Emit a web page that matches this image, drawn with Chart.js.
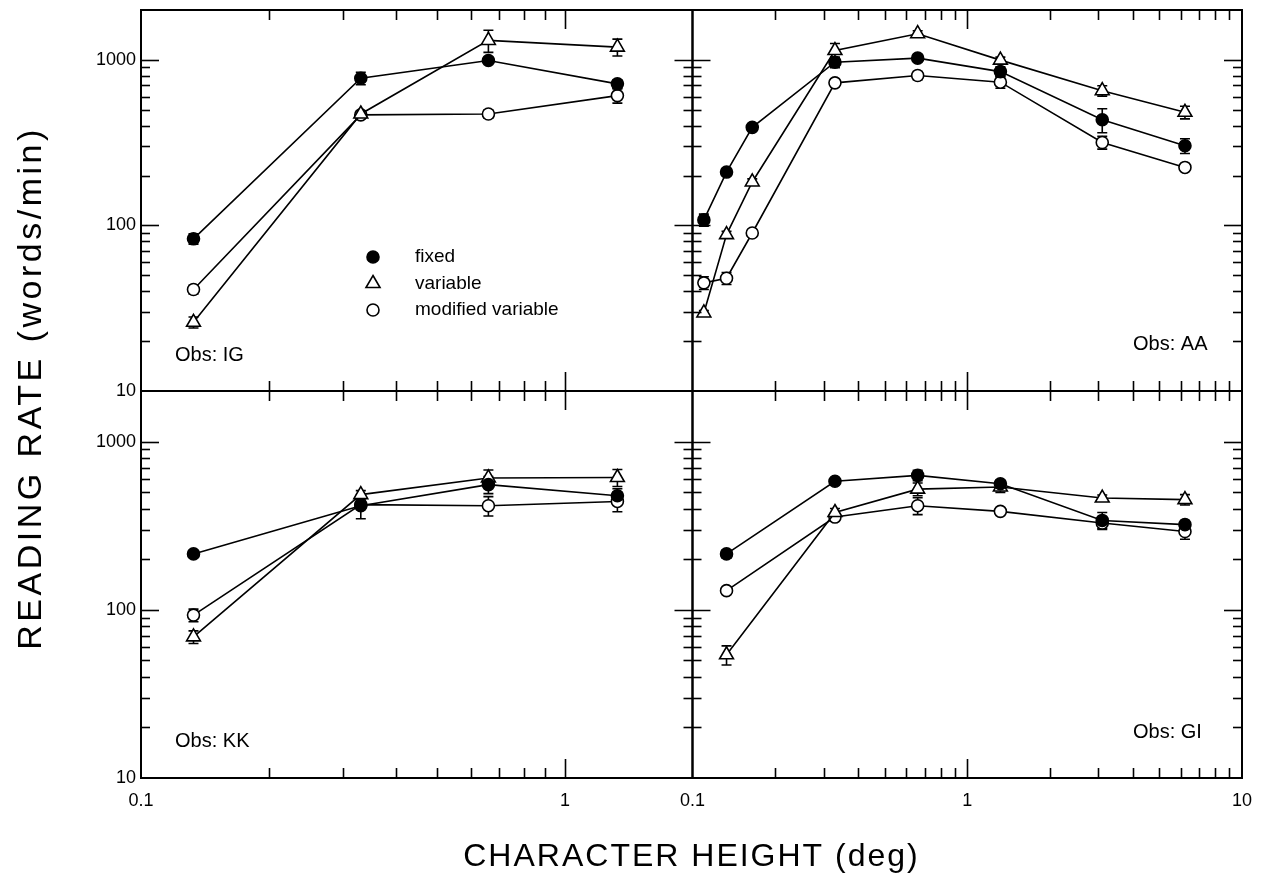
<!DOCTYPE html>
<html>
<head>
<meta charset="utf-8">
<script src="https://cdn.jsdelivr.net/npm/chart.js@4.4.1/dist/chart.umd.min.js"></script>
<style>
  html, body { margin: 0; padding: 0; background: #fff; }
  #contenedor { position: relative; width: 1265px; height: 890px; }
</style>
</head>
<body>
<div id="contenedor"><canvas id="grafica" width="1265" height="890"></canvas></div>
<script>
// altura de caracter (deg) para cada panel
const alturasIzq = [0.133, 0.33, 0.66, 1.33];
const alturasAA = [0.11, 0.133, 0.165, 0.33, 0.66, 1.32, 3.1, 6.2];
const alturasGI = [0.133, 0.33, 0.66, 1.32, 3.1, 6.2];

// Obs: IG
const igFijo = [83, 774, 990, 716];
const igFijoErr = [6, 67, 30, 40];
const igVariable = [26, 471, 1310, 1194];
const igVariableErr = [2, 20, 200, 140];
const igModificado = [41, 465, 471, 608];
const igModificadoErr = [2.5, 0, 27, 60];

// Obs: AA
const aaFijo = [108, 210, 391, 968, 1024, 849, 435, 303];
const aaFijoErr = [9, 9, 17, 70, 43, 60, 72, 31];
const aaVariable = [29.6, 88, 183, 1138, 1438, 996, 651, 482];
const aaVariableErr = [1, 4, 8, 117, 60, 42, 47, 42];
const aaModificado = [45, 48, 90, 726, 804, 733, 317, 224];
const aaModificadoErr = [4, 4, 4, 31, 46, 60, 28, 10];

// Obs: KK
const kkFijo = [215, 416, 555, 477];
const kkFijoErr = [9, 68, 64, 48];
const kkVariable = [69, 484, 608, 612];
const kkVariableErr = [6, 27, 70, 71];
const kkModificado = [93, 422, 416, 441];
const kkModificadoErr = [8, 24, 55, 58];

// Obs: GI
const giFijo = [215, 581, 630, 562, 340, 321];
const giFijoErr = [12, 25, 45, 24, 39, 18];
const giVariable = [54, 379, 522, 537, 462, 452];
const giVariableErr = [7, 21, 45, 38, 20, 32];
const giModificado = [130, 356, 416, 385, 328, 292];
const giModificadoErr = [5, 15, 48, 16, 23, 29];

const ticksY = [10, 100, 1000];
const ticksXIzq = [0.1, 1];
const ticksXDer = [0.1, 1, 10];
const nombresSeries = ["fixed", "variable", "modified variable"];
const observadores = ["Obs: IG", "Obs: AA", "Obs: KK", "Obs: GI"];

const fuente = "'Liberation Sans', Arial, Helvetica, sans-serif";

function puntos(xs, ys) {
  return xs.map((x, i) => ({ x: x, y: ys[i] }));
}

function serie(nombre, xs, ys, errores, ejeX, ejeY, tipo) {
  const relleno = tipo === "fijo" ? "#000" : "#fff";
  return {
    label: nombre,
    data: puntos(xs, ys),
    errores: errores,
    xAxisID: ejeX,
    yAxisID: ejeY,
    borderColor: "#000",
    borderWidth: 1.6,
    pointStyle: tipo === "variable" ? "triangle" : "circle",
    pointRadius: tipo === "variable" ? 8 : 6,
    pointBackgroundColor: relleno,
    pointBorderColor: "#000",
    pointBorderWidth: 1.6,
    tension: 0,
    fill: false,
  };
}

function panel(xs, fijo, fijoErr, variable, variableErr, modif, modifErr, ejeX, ejeY) {
  return [
    serie(nombresSeries[0], xs, fijo, fijoErr, ejeX, ejeY, "fijo"),
    serie(nombresSeries[1], xs, variable, variableErr, ejeX, ejeY, "variable"),
    serie(nombresSeries[2], xs, modif, modifErr, ejeX, ejeY, "modificado"),
  ];
}

const datasets = [
  ...panel(alturasIzq, igFijo, igFijoErr, igVariable, igVariableErr, igModificado, igModificadoErr, "xL", "yT"),
  ...panel(alturasAA, aaFijo, aaFijoErr, aaVariable, aaVariableErr, aaModificado, aaModificadoErr, "xR", "yT"),
  ...panel(alturasIzq, kkFijo, kkFijoErr, kkVariable, kkVariableErr, kkModificado, kkModificadoErr, "xL", "yB"),
  ...panel(alturasGI, giFijo, giFijoErr, giVariable, giVariableErr, giModificado, giModificadoErr, "xR", "yB"),
];

function valoresMarcas(min, max) {
  const valores = [];
  let decada = Math.pow(10, Math.floor(Math.log10(min) + 1e-9));
  while (decada < max) {
    for (let k = 1; k <= 9; k++) {
      const v = parseFloat((k * decada).toPrecision(4));
      if (v > min * 1.0001 && v < max * 0.9999) valores.push({ v: v, mayor: k === 1 });
    }
    decada *= 10;
  }
  return valores;
}

function marcasY(ctx, escala, x, modo) {
  for (const t of valoresMarcas(escala.min, escala.max)) {
    const y = Math.round(escala.getPixelForValue(t.v)) + 0.5;
    const largo = t.mayor ? 18 : 9;
    ctx.beginPath();
    if (modo === "cruz") {
      ctx.moveTo(x - largo, y);
      ctx.lineTo(x + largo, y);
    } else {
      ctx.moveTo(x, y);
      ctx.lineTo(x + modo * largo, y);
    }
    ctx.stroke();
  }
}

function marcasX(ctx, escala, y, modo) {
  for (const t of valoresMarcas(escala.min, escala.max)) {
    const x = Math.round(escala.getPixelForValue(t.v)) + 0.5;
    const largo = t.mayor ? 19 : 10;
    ctx.beginPath();
    if (modo === "cruz") {
      ctx.moveTo(x, y - largo);
      ctx.lineTo(x, y + largo);
    } else {
      ctx.moveTo(x, y);
      ctx.lineTo(x, y + modo * largo);
    }
    ctx.stroke();
  }
}

const pluginMarco = {
  id: "marco",
  beforeDatasetsDraw(chart) {
    const ctx = chart.ctx;
    ctx.save();
    ctx.strokeStyle = "#000";
    ctx.lineWidth = 1.6;
    chart.data.datasets.forEach((ds, i) => {
      const meta = chart.getDatasetMeta(i);
      const ex = meta.xScale;
      const ey = meta.yScale;
      ds.data.forEach((p, j) => {
        const e = ds.errores[j];
        if (!e) return;
        const x = ex.getPixelForValue(p.x);
        const y1 = ey.getPixelForValue(p.y - e);
        const y2 = ey.getPixelForValue(p.y + e);
        ctx.beginPath();
        ctx.moveTo(x, y1);
        ctx.lineTo(x, y2);
        ctx.moveTo(x - 5, y1);
        ctx.lineTo(x + 5, y1);
        ctx.moveTo(x - 5, y2);
        ctx.lineTo(x + 5, y2);
        ctx.stroke();
      });
    });
    ctx.restore();
  },
  afterDatasetsDraw(chart) {
    const ctx = chart.ctx;
    const s = chart.scales;
    ctx.save();
    ctx.strokeStyle = "#000";
    ctx.fillStyle = "#000";

    // marcos de los cuatro paneles
    ctx.lineWidth = 2;
    const paneles = [[s.xL, s.yT], [s.xR, s.yT], [s.xL, s.yB], [s.xR, s.yB]];
    paneles.forEach(([ex, ey]) => {
      ctx.strokeRect(ex.left, ey.top, ex.right - ex.left, ey.bottom - ey.top);
    });

    // marcas de los ejes
    ctx.lineWidth = 1.6;
    marcasY(ctx, s.yT, s.xL.left, 1);
    marcasY(ctx, s.yB, s.xL.left, 1);
    marcasY(ctx, s.yT, s.xR.left, "cruz");
    marcasY(ctx, s.yB, s.xR.left, "cruz");
    marcasY(ctx, s.yT, s.xR.right, -1);
    marcasY(ctx, s.yB, s.xR.right, -1);
    marcasX(ctx, s.xL, s.yT.top, 1);
    marcasX(ctx, s.xR, s.yT.top, 1);
    marcasX(ctx, s.xL, s.yB.top, "cruz");
    marcasX(ctx, s.xR, s.yB.top, "cruz");
    marcasX(ctx, s.xL, s.yB.bottom, -1);
    marcasX(ctx, s.xR, s.yB.bottom, -1);

    // leyenda en el primer panel
    const lx = s.xL.left + 232;
    const ly = s.yT.top + 247;
    ctx.lineWidth = 1.6;
    ctx.font = "19px " + fuente;
    ctx.textAlign = "left";
    ctx.textBaseline = "middle";
    nombresSeries.forEach((nombre, i) => {
      const y = ly + i * 26.5;
      ctx.beginPath();
      if (i === 1) {
        ctx.moveTo(lx, y - 8);
        ctx.lineTo(lx + 7, y + 4);
        ctx.lineTo(lx - 7, y + 4);
        ctx.closePath();
        ctx.stroke();
      } else {
        ctx.arc(lx, y, 6, 0, Math.PI * 2);
        if (i === 0) ctx.fill();
        ctx.stroke();
      }
      ctx.fillText(nombre, lx + 42, y);
    });

    // etiquetas de observador
    ctx.font = "20px " + fuente;
    ctx.fillText(observadores[0], s.xL.left + 34, s.yT.bottom - 36);
    ctx.fillText(observadores[1], s.xR.right - 109, s.yT.bottom - 47);
    ctx.fillText(observadores[2], s.xL.left + 34, s.yB.bottom - 37);
    ctx.fillText(observadores[3], s.xR.right - 109, s.yB.bottom - 46);

    // titulos de los ejes
    ctx.font = "32px " + fuente;
    ctx.letterSpacing = "2px";
    ctx.textAlign = "center";
    ctx.fillText("CHARACTER HEIGHT (deg)", (s.xL.left + s.xR.right) / 2, 857);
    ctx.font = "34px " + fuente;
    ctx.letterSpacing = "3.5px";
    ctx.translate(32, 388);
    ctx.rotate(-Math.PI / 2);
    ctx.fillText("READING RATE (words/min)", 0, 0);
    ctx.restore();
  },
};

function ejeX(min, max, peso, etiquetas) {
  return {
    type: "logarithmic",
    position: "bottom",
    stack: "x",
    stackWeight: peso,
    min: min,
    max: max,
    grid: { display: false, drawTicks: false },
    border: { display: false },
    afterBuildTicks: (escala) => {
      escala.ticks = etiquetas.map((v) => ({ value: v }));
    },
    afterFit: (escala) => {
      escala.height = 112;
      escala.paddingLeft = 0;
      escala.paddingRight = 0;
    },
    ticks: {
      autoSkip: false,
      maxRotation: 0,
      padding: 12,
      color: "#000",
      font: { family: fuente, size: 18 },
      callback: (v) => String(v),
    },
  };
}

function ejeY(peso) {
  return {
    type: "logarithmic",
    position: "left",
    stack: "y",
    stackWeight: peso,
    min: 10,
    max: 2000,
    grid: { display: false, drawTicks: false },
    border: { display: false },
    afterBuildTicks: (escala) => {
      escala.ticks = ticksY.map((v) => ({ value: v }));
    },
    afterFit: (escala) => {
      escala.width = 141;
      escala.paddingTop = 0;
      escala.paddingBottom = 0;
    },
    ticks: {
      autoSkip: false,
      padding: 5,
      color: "#000",
      font: { family: fuente, size: 18 },
      callback: (v) => String(v),
    },
  };
}

const configuracion = {
  type: "line",
  data: { datasets: datasets },
  options: {
    responsive: false,
    animation: false,
    devicePixelRatio: 1,
    layout: { padding: { left: 0, top: 10, right: 23, bottom: 0 } },
    plugins: {
      legend: { display: false },
      tooltip: { enabled: false },
    },
    scales: {
      xL: ejeX(0.1, 2, 552, ticksXIzq),
      xR: ejeX(0.1, 10, 550, ticksXDer),
      yB: ejeY(387),
      yT: ejeY(381),
    },
  },
  plugins: [pluginMarco],
};

const graficaDOM = document.querySelector("#grafica");
const grafica = new Chart(graficaDOM, configuracion);
</script>
</body>
</html>
